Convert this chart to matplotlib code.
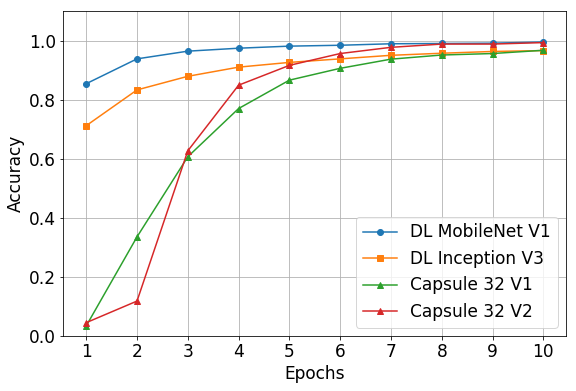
import matplotlib
matplotlib.use("Agg")
import matplotlib.pyplot as plt

epochs = [1, 2, 3, 4, 5, 6, 7, 8, 9, 10]
mobilenet_v1 = [0.854, 0.938, 0.964, 0.974, 0.981, 0.984, 0.989, 0.990, 0.991, 0.995]
inception_v3 = [0.712, 0.833, 0.879, 0.910, 0.926, 0.938, 0.950, 0.957, 0.963, 0.966]
capsule_v1 = [0.035, 0.336, 0.607, 0.770, 0.866, 0.906, 0.937, 0.951, 0.956, 0.967]
capsule_v2 = [0.046, 0.119, 0.627, 0.849, 0.916, 0.956, 0.977, 0.988, 0.988, 0.993]

fig, ax = plt.subplots(figsize=(8, 391 / 72), dpi=72)

ax.plot(epochs, mobilenet_v1, marker='o', label='DL MobileNet V1')
ax.plot(epochs, inception_v3, marker='s', label='DL Inception V3')
ax.plot(epochs, capsule_v1, marker='^', label='Capsule 32 V1')
ax.plot(epochs, capsule_v2, marker='^', label='Capsule 32 V2')

ax.set_ylim(0, 1.1)
ax.set_xticks(epochs)
ax.set_yticks([0.0, 0.2, 0.4, 0.6, 0.8, 1.0])
ax.tick_params(labelsize=17)
ax.set_xlabel('Epochs', fontsize=17)
ax.set_ylabel('Accuracy', fontsize=17)
ax.grid(True)
ax.legend(loc='lower right', fontsize=17)

fig.subplots_adjust(left=0.11, right=0.983, top=0.972, bottom=0.14)
fig.savefig('out.png', dpi=72)
